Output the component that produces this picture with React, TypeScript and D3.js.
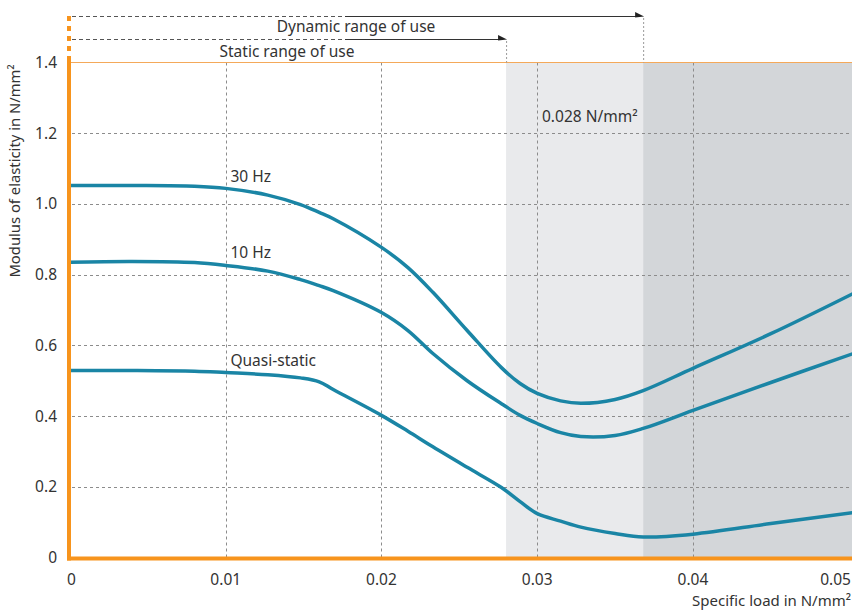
import React from 'react';
import * as d3 from 'd3';

// specific load in N/mm² (shared x positions for all three curves)
const load = [0, 0.004, 0.008, 0.01, 0.0127, 0.0148, 0.016, 0.0169, 0.02, 0.0217, 0.0233, 0.0255, 0.0277, 0.0289, 0.03, 0.0315, 0.0328, 0.035, 0.0368, 0.04, 0.045, 0.0503];
const hz30 = [1.052, 1.052, 1.05, 1.044, 1.025, 0.998, 0.976, 0.958, 0.877, 0.82, 0.75, 0.642, 0.537, 0.492, 0.464, 0.443, 0.436, 0.447, 0.472, 0.535, 0.633, 0.747];
const hz10 = [0.835, 0.837, 0.834, 0.826, 0.81, 0.786, 0.769, 0.755, 0.693, 0.642, 0.577, 0.5, 0.435, 0.402, 0.379, 0.353, 0.342, 0.345, 0.365, 0.416, 0.495, 0.577];
const quasiStatic = [0.529, 0.529, 0.527, 0.523, 0.517, 0.508, 0.497, 0.475, 0.402, 0.357, 0.313, 0.255, 0.198, 0.158, 0.124, 0.103, 0.086, 0.068, 0.058, 0.066, 0.096, 0.127];

const seriesNames = ['30 Hz', '10 Hz', 'Quasi-static'];
const labelAt = [0.0103, 0.0103, 0.0103];
const labelValue = [1.062, 0.846, 0.542];

const xTicks = [0, 0.01, 0.02, 0.03, 0.04, 0.05];
const xTickLabels = ['0', '0.01', '0.02', '0.03', '0.04', '0.05'];
const yTicks = [0, 0.2, 0.4, 0.6, 0.8, 1.0, 1.2, 1.4];
const yTickLabels = ['0', '0.2', '0.4', '0.6', '0.8', '1.0', '1.2', '1.4'];

const staticLimit = 0.028;
const dynamicLimit = 0.0368;

const W = 852;
const H = 610;
const font = '"Noto Sans", sans-serif';
const fs = 15.5;
const textCol = '#333';
const teal = '#1a85a5';
const orange = '#f7941d';

export default function App() {
  const x = d3.scaleLinear().domain([0, 0.05021]).range([70, 852]);
  const y = d3.scaleLinear().domain([0, 1.4]).range([557.5, 62.5]);

  const line = d3.line<number>()
    .x((d, i) => x(load[i]))
    .y(d => y(d))
    .curve(d3.curveCatmullRom.alpha(0.5));

  const series = [hz30, hz10, quasiStatic];
  const top = y(1.4);
  const bottom = y(0);
  const xs = x(staticLimit);
  const xd = x(dynamicLimit);

  return (
    <svg width={W} height={H} style={{ position: 'absolute', left: 0, top: 0, background: '#fff' }}>
      {/* shaded ranges */}
      <rect x={xs} y={top} width={xd - xs} height={bottom - top} fill="#e9eaec" />
      <rect x={xd} y={top} width={W - xd} height={bottom - top} fill="#d3d6d9" />

      {/* grid */}
      {yTicks.filter(t => t > 0 && t < 1.4).map(t => (
        <line key={'gy' + t} x1={72} x2={W} y1={Math.round(y(t)) + 0.5} y2={Math.round(y(t)) + 0.5}
          stroke="#8c8c8c" strokeDasharray="3,3" />
      ))}
      {xTicks.filter(t => t > 0 && t < 0.05).map(t => (
        <line key={'gx' + t} x1={Math.round(x(t)) + 0.5} x2={Math.round(x(t)) + 0.5} y1={top} y2={bottom}
          stroke="#8c8c8c" strokeDasharray="3,3" />
      ))}
      <line x1={70} x2={W} y1={top} y2={top} stroke="#f4a95a" strokeWidth={1.2} />

      {/* range annotations */}
      <line x1={72} x2={345} y1={16.5} y2={16.5} stroke="#555" strokeDasharray="4,3" />
      <line x1={345} x2={636} y1={16.5} y2={16.5} stroke="#333" />
      <polygon points={`${xd - 8},12 ${xd + 1},16.5 ${xd - 8},17.5`} fill="#222" />
      <line x1={xd + 0.5} x2={xd + 0.5} y1={18} y2={top} stroke="#999" strokeDasharray="2,2" />
      <text x={356} y={32} textAnchor="middle" fontFamily={font} fontSize={fs} fill={textCol}>Dynamic range of use</text>

      <line x1={72} x2={345} y1={39.5} y2={39.5} stroke="#555" strokeDasharray="4,3" />
      <line x1={345} x2={xs - 6} y1={39.5} y2={39.5} stroke="#333" />
      <polygon points={`${xs - 8},35 ${xs + 1},39.5 ${xs - 8},40.5`} fill="#222" />
      <line x1={xs + 0.5} x2={xs + 0.5} y1={41} y2={top} stroke="#999" strokeDasharray="2,2" />
      <text x={287} y={57} textAnchor="middle" fontFamily={font} fontSize={fs} fill={textCol}>Static range of use</text>

      <text x={542} y={122} fontFamily={font} fontSize={fs} fill={textCol}>0.028 N/mm²</text>

      {/* curves */}
      {series.map((s, i) => (
        <path key={seriesNames[i]} d={line(s) || ''} fill="none" stroke={teal} strokeWidth={3.5} />
      ))}
      {seriesNames.map((n, i) => (
        <text key={'l' + n} x={x(labelAt[i])} y={y(labelValue[i])} fontFamily={font} fontSize={fs} fill={textCol}>{n}</text>
      ))}

      {/* axes */}
      <line x1={69} x2={69} y1={16} y2={57} stroke={orange} strokeWidth={4} strokeDasharray="5,5" />
      <line x1={69} x2={69} y1={57} y2={560.5} stroke={orange} strokeWidth={4} />
      <line x1={67} x2={W} y1={558.5} y2={558.5} stroke={orange} strokeWidth={4} />

      {yTicks.map((t, i) => (
        <text key={'yt' + t} x={57} y={y(t) + 5.5} textAnchor="end" fontFamily={font} fontSize={fs} fill={textCol}>{yTickLabels[i]}</text>
      ))}
      {xTicks.map((t, i) => {
        const last = i === xTicks.length - 1;
        return (
          <text key={'xt' + t} x={last ? 851 : x(t)} y={585} textAnchor={i === 0 ? 'start' : last ? 'end' : 'middle'} dx={i === 0 ? -3 : 0}
            fontFamily={font} fontSize={fs} fill={textCol}>{xTickLabels[i]}</text>
        );
      })}
      <text x={851} y={606} textAnchor="end" fontFamily={font} fontSize={15} fill={textCol}>Specific load in N/mm²</text>
      <text transform="translate(20,171) rotate(-90)" textAnchor="middle" fontFamily={font} fontSize={14.8} fill={textCol}>
        Modulus of elasticity in N/mm²
      </text>
    </svg>
  );
}
